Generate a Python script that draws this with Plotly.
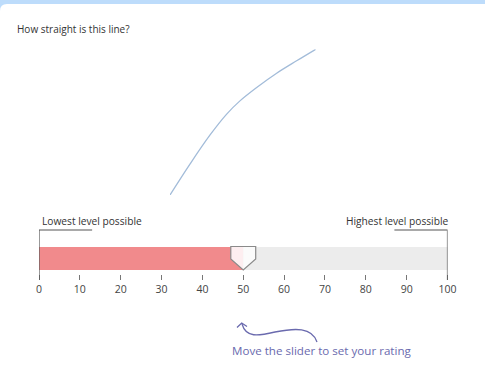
"""
Slider rating question: how straight is this line?
"""
import plotly.graph_objects as go

W, H = 485, 377

# stimulus line (unitless, 0..1 on both axes)
line_x = [0.0, 0.137, 0.275, 0.389, 0.480, 0.595, 0.732, 0.869, 1.0]
line_y = [0.0, 0.212, 0.412, 0.555, 0.646, 0.738, 0.836, 0.921, 1.0]

# slider
scale_min, scale_max = 0, 100
rating = 50
tick_vals = [0, 10, 20, 30, 40, 50, 60, 70, 80, 90, 100]
low_label = "Lowest level possible"
high_label = "Highest level possible"
question = "How straight is this line?"
hint = "Move the slider to set your rating"

FONT = "Open Sans"
HINT_COL = "#6a6aae"


def px(x):
    return x / W


def py(y):
    return 1 - y / H


fig = go.Figure()

# line to judge
fig.add_trace(go.Scatter(
    x=line_x, y=line_y, mode="lines", line_shape="spline",
    line=dict(color="#a3bcd9", width=1.3, smoothing=1.0),
    xaxis="x2", yaxis="y2", hoverinfo="skip"
))

# slider track + filled part
fig.add_trace(go.Bar(
    x=[scale_max], y=[0], orientation="h", width=1,
    marker=dict(color="#ececec", line_width=0), hoverinfo="skip"
))
fig.add_trace(go.Bar(
    x=[rating], y=[0], orientation="h", width=1,
    marker=dict(color="#f18a8c", line_width=0), hoverinfo="skip"
))

shapes = []

# top band and card corner
shapes.append(dict(type="rect", xref="paper", yref="paper",
                   x0=0, x1=1, y0=py(12), y1=1,
                   fillcolor="#bddcfb", line_width=0, layer="below"))
r = 7
card = (f"M {px(0)},{py(4 + r)} Q {px(0)},{py(4)} {px(r)},{py(4)} "
        f"L {px(W)},{py(4)} L {px(W)},{py(14)} L {px(0)},{py(14)} Z")
shapes.append(dict(type="path", xref="paper", yref="paper", path=card,
                   fillcolor="white", line_width=0, layer="below"))

# brackets at both ends
yb_top, yb_bot = py(230), py(280)
shapes.append(dict(type="path", xref="x", yref="paper",
                   path=f"M {scale_min + 13},{yb_top} L {scale_min},{yb_top} L {scale_min},{yb_bot}",
                   line=dict(color="#555", width=1.2)))
shapes.append(dict(type="path", xref="x", yref="paper",
                   path=f"M {scale_max - 13},{yb_top} L {scale_max},{yb_top} L {scale_max},{yb_bot}",
                   line=dict(color="#555", width=1.2)))

# handle
hw = 3.05
y_top, y_mid, y_tip = py(246.5), py(259), py(270)
shapes.append(dict(type="path", xref="x", yref="paper",
                   path=f"M {rating - hw},{y_top} L {rating},{y_top} L {rating},{y_tip} "
                        f"L {rating - hw},{y_mid} Z",
                   fillcolor="#fdeef0", line_width=0))
shapes.append(dict(type="path", xref="x", yref="paper",
                   path=f"M {rating},{y_top} L {rating + hw},{y_top} L {rating + hw},{y_mid} "
                        f"L {rating},{y_tip} Z",
                   fillcolor="#fbfbfb", line_width=0))
shapes.append(dict(type="path", xref="x", yref="paper",
                   path=f"M {rating - hw},{y_top} L {rating + hw},{y_top} L {rating + hw},{y_mid} "
                        f"L {rating},{y_tip} L {rating - hw},{y_mid} Z",
                   line=dict(color="#8a8a8a", width=1.2)))

# curly hint arrow
curve = (f"M {px(317)},{py(342)} C {px(312)},{py(327)} {px(295)},{py(328)} {px(275)},{py(332)} "
         f"C {px(258)},{py(336)} {px(246)},{py(338)} {px(242)},{py(324)}")
shapes.append(dict(type="path", xref="paper", yref="paper", path=curve,
                   line=dict(color=HINT_COL, width=1.3)))
head = f"M {px(237)},{py(327.5)} L {px(241.7)},{py(323)} L {px(247)},{py(326.5)}"
shapes.append(dict(type="path", xref="paper", yref="paper", path=head,
                   line=dict(color=HINT_COL, width=1.3)))

annotations = [
    dict(text=question, x=px(15), y=py(29), xref="paper", yref="paper",
         xanchor="left", yanchor="middle", showarrow=False,
         font=dict(family=FONT, size=10, color="#333")),
    dict(text=low_label, x=px(40), y=py(221), xref="paper", yref="paper",
         xanchor="left", yanchor="middle", showarrow=False,
         font=dict(family=FONT, size=10.2, color="#333")),
    dict(text=high_label, x=px(450), y=py(221), xref="paper", yref="paper",
         xanchor="right", yanchor="middle", showarrow=False,
         font=dict(family=FONT, size=10.2, color="#333")),
    dict(text=hint, x=px(321.5), y=py(350), xref="paper", yref="paper",
         xanchor="center", yanchor="middle", showarrow=False,
         font=dict(family=FONT, size=11.6, color=HINT_COL)),
]

fig.update_layout(
    width=W, height=H, autosize=False,
    margin=dict(l=0, r=0, t=0, b=0, autoexpand=False),
    paper_bgcolor="white", plot_bgcolor="rgba(0,0,0,0)",
    showlegend=False, barmode="overlay", bargap=0,
    shapes=shapes, annotations=annotations,
    xaxis=dict(domain=[px(39), px(447.5)], range=[scale_min, scale_max],
               anchor="free", position=py(274), tickmode="array",
               tickvals=tick_vals, ticks="outside", ticklen=5,
               tickcolor="#777", tickwidth=1, showgrid=False,
               zeroline=False, showline=False, automargin=False,
               tickfont=dict(family=FONT, size=10.5, color="#444")),
    yaxis=dict(domain=[py(270), py(246.5)], range=[-0.5, 0.5],
               visible=False, fixedrange=True, automargin=False),
    xaxis2=dict(domain=[px(170), px(315.7)], range=[0, 1], anchor="y2",
                visible=False, automargin=False),
    yaxis2=dict(domain=[py(195), py(49.3)], range=[0, 1], anchor="x2",
                visible=False, automargin=False),
)

# page body has a default margin and may get scrollbars; drop both
fig.write_html(
    "out.html",
    config=dict(displayModeBar=False, responsive=False),
    post_script=("document.body.style.margin='0';"
                 "document.body.style.overflow='hidden';"
                 "document.documentElement.style.overflow='hidden';"),
)
